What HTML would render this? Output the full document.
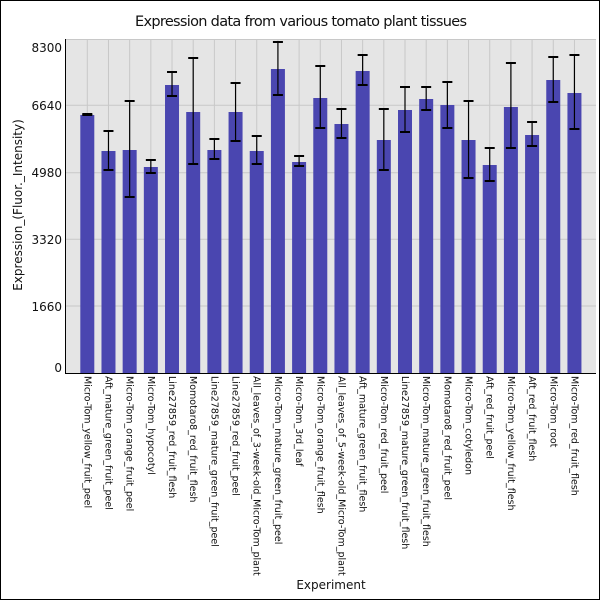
<!DOCTYPE html>
<html><head><meta charset="utf-8"><style>html,body{margin:0;padding:0;background:#fff}svg{display:block}</style></head>
<body>
<svg width="600" height="600" xmlns="http://www.w3.org/2000/svg" font-family="DejaVu Sans, Liberation Sans, sans-serif">
<rect x="0.5" y="0.5" width="599" height="599" fill="#fff" stroke="#000" stroke-width="1"/>
<text x="301" y="26" font-size="14.5" text-anchor="middle" textLength="332" fill="#111">Expression data from various tomato plant tissues</text>
<rect x="66" y="39" width="530" height="334" fill="#e5e5e5"/>
<g stroke="#c8c8c8" stroke-width="1">
<line x1="66" x2="596" y1="105.3" y2="105.3"/><line x1="66" x2="596" y1="172.7" y2="172.7"/>
<line x1="66" x2="596" y1="239.3" y2="239.3"/><line x1="66" x2="596" y1="306" y2="306"/>
<line x1="66" x2="596" y1="39.5" y2="39.5"/>
</g>
<g id="vg" stroke="#c8c8c8" stroke-width="1"></g>
<g id="bars"></g>
<line x1="65.5" x2="65.5" y1="39" y2="373.5" stroke="#000"/>
<line x1="65" x2="596" y1="373.5" y2="373.5" stroke="#000"/>
<g font-size="12" text-anchor="end" fill="#111">
<text x="62" y="52">8300</text><text x="62" y="110">6640</text><text x="62" y="177">4980</text>
<text x="62" y="244">3320</text><text x="62" y="311">1660</text><text x="62" y="372">0</text>
</g>
<text transform="translate(22,205) rotate(-90)" font-size="12" text-anchor="middle" fill="#111">Expression_(Fluor._Intensity)</text>
<text x="331" y="589" font-size="12" text-anchor="middle" fill="#111">Experiment</text>
<g id="labels" font-size="9.5" fill="#111"></g>
<script>
var d=[[115,114,115],[151,131,170],[150,101,197],[167,160,173],[85,72,96],[112,58,164],[150,139,159],[112,83,141],[151,136,164],[69,42,95],[162,156,166],[98,66,128],[124,109,138],[71,55,85],[140,109,170],[110,87,132],[99,87,110],[105,82,128],[140,101,178],[165,148,181],[107,63,148],[135,122,146],[80,57,102],[93,55,129]];
var L=["Micro-Tom_yellow_fruit_peel","Aft_mature_green_fruit_peel","Micro-Tom_orange_fruit_peel","Micro-Tom_hypocotyl","Line27859_red_fruit_flesh","Momotaro8_red_fruit_flesh","Line27859_mature_green_fruit_peel","Line27859_red_fruit_peel","All_leaves_of_3-week-old_Micro-Tom_plant","Micro-Tom_mature_green_fruit_peel","Micro-Tom_3rd_leaf","Micro-Tom_orange_fruit_flesh","All_leaves_of_5-week-old_Micro-Tom_plant","Aft_mature_green_fruit_flesh","Micro-Tom_red_fruit_peel","Line27859_mature_green_fruit_flesh","Micro-Tom_mature_green_fruit_flesh","Momotaro8_red_fruit_peel","Micro-Tom_cotyledon","Aft_red_fruit_peel","Micro-Tom_yellow_fruit_flesh","Aft_red_fruit_flesh","Micro-Tom_root","Micro-Tom_red_fruit_flesh"];
var ns="http://www.w3.org/2000/svg",vg=document.getElementById('vg'),b=document.getElementById('bars'),lb=document.getElementById('labels');
function el(p,t,a){var e=document.createElementNS(ns,t);for(var k in a)e.setAttribute(k,a[k]);p.appendChild(e);return e;}
for(var i=0;i<24;i++){var c=87.3+21.18*i;
el(vg,'line',{x1:c,x2:c,y1:39,y2:373});
el(b,'rect',{x:c-7,y:d[i][0],width:14,height:373-d[i][0],fill:'#4a46b0'});
el(b,'line',{x1:c,x2:c,y1:d[i][1],y2:d[i][2],stroke:'#000','stroke-width':1.2});
el(b,'line',{x1:c-5,x2:c+5,y1:d[i][1],y2:d[i][1],stroke:'#000','stroke-width':2});
el(b,'line',{x1:c-5,x2:c+5,y1:d[i][2],y2:d[i][2],stroke:'#000','stroke-width':2});
var t=el(lb,'text',{transform:'translate('+(c-3)+',376) rotate(90)'});t.textContent=L[i];}
</script>
</svg>
</body></html>
